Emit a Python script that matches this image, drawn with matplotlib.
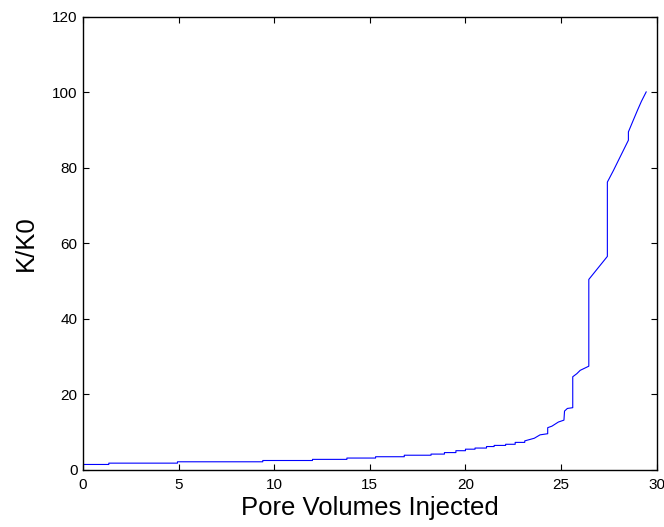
import matplotlib.pyplot as plt

plt.rcParams['font.family'] = ['Liberation Sans', 'DejaVu Sans']

# K/K0 versus pore volumes injected (step corners included)
pv = [0, 1.35, 1.35, 4.94, 4.94, 9.4, 9.4, 12.0, 12.0, 13.8, 13.8, 15.3, 15.3,
      16.8, 16.8, 18.2, 18.2, 18.9, 18.9, 19.5, 19.5, 20.0, 20.0, 20.5, 20.5,
      21.1, 21.1, 21.5, 21.5, 22.1, 22.1, 22.6, 22.6, 23.1, 23.1, 23.6, 23.9,
      24.3, 24.3, 24.52, 24.86, 25.15, 25.18, 25.33, 25.61, 25.61, 25.82,
      26.0, 26.45, 26.45, 27.42, 27.42, 27.74, 28.1, 28.52, 28.52, 28.75,
      29.0, 29.2, 29.45]
kk0 = [1.35, 1.35, 1.7, 1.7, 2.06, 2.06, 2.4, 2.4, 2.7, 2.7, 3.05, 3.05, 3.4,
       3.4, 3.8, 3.8, 4.1, 4.1, 4.5, 4.5, 5.0, 5.0, 5.4, 5.4, 5.7,
       5.7, 6.1, 6.1, 6.4, 6.4, 6.7, 6.7, 7.2, 7.2, 7.6, 8.3, 9.2,
       9.5, 11.1, 11.5, 12.6, 13.1, 15.5, 16.2, 16.4, 24.6, 25.4,
       26.3, 27.4, 50.4, 56.5, 76.2, 79.3, 83.0, 87.3, 89.5, 92.3,
       95.3, 97.6, 100.1]

fig = plt.figure(figsize=(6.64, 5.27), dpi=100)
ax = fig.add_axes([0.125, 0.109, 0.864, 0.859])
ax.plot(pv, kk0, color='#0000ff', linewidth=0.8)

ax.set_xlim(0, 30)
ax.set_ylim(0, 120)
ax.set_xticks(range(0, 31, 5))
ax.set_yticks(range(0, 121, 20))
ax.tick_params(direction='in', length=4, width=0.8, top=True, right=True,
               labelsize=11)
ax.tick_params(axis='x', pad=6)
ax.tick_params(axis='y', pad=4)
for s in ax.spines.values():
    s.set_linewidth(1.0)

ax.set_xlabel('Pore Volumes Injected', fontsize=18.5, labelpad=3)
ax.set_ylabel('K/K0', fontsize=18.5, labelpad=10)

fig.savefig('out.png', dpi=100)
